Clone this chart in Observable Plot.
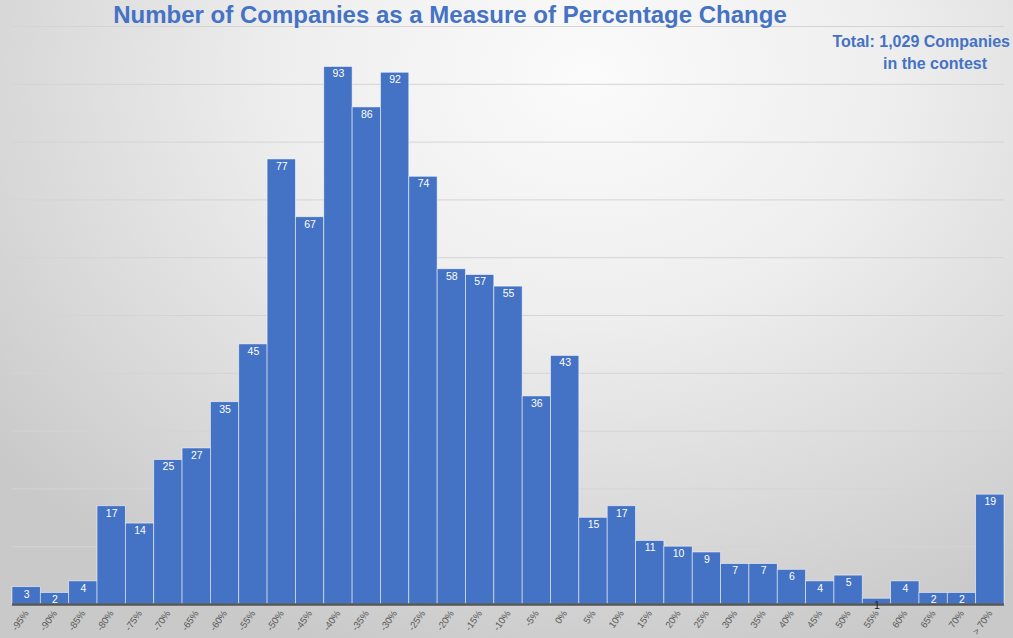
<!DOCTYPE html>
<html>
<head>
<meta charset="utf-8">
<script src="https://cdn.jsdelivr.net/npm/d3@7"></script>
<script src="https://cdn.jsdelivr.net/npm/@observablehq/plot@0.6"></script>
<style>
  html, body { margin: 0; padding: 0; }
  body {
    width: 1013px; height: 638px; overflow: hidden;
    background: radial-gradient(ellipse 75% 95% at 58% 12%, #fbfbfb 0%, #eeeeee 40%, #d6d6d6 80%, #c9c9c9 100%);
    font-family: "Liberation Sans", Arial, sans-serif;
  }
  #wrap { position: relative; width: 1013px; height: 638px; }
  #title {
    position: absolute; left: 0; width: 900px; top: 1px; text-align: center;
    font: bold 24px "Liberation Sans", Arial, sans-serif; color: #4472C4;
  }
  .note {
    position: absolute; font: bold 16px "Liberation Sans", Arial, sans-serif; color: #4472C4; white-space: nowrap;
  }
  #chart { position: absolute; left: 0; top: 0; }
</style>
</head>
<body>
<div id="wrap">
  <div id="chart"></div>
  <div id="title">Number of Companies as a Measure of Percentage Change</div>
  <div class="note" style="right:3px; top:33px;">Total: 1,029 Companies</div>
  <div class="note" style="left:883px; top:55px;">in the contest</div>
</div>
<script>
const categories = ["-95%","-90%","-85%","-80%","-75%","-70%","-65%","-60%","-55%","-50%","-45%","-40%","-35%","-30%","-25%","-20%","-15%","-10%","-5%","0%","5%","10%","15%","20%","25%","30%","35%","40%","45%","50%","55%","60%","65%","70%","> 70%"];
const counts = [3,2,4,17,14,25,27,35,45,77,67,93,86,92,74,58,57,55,36,43,15,17,11,10,9,7,7,6,4,5,1,4,2,2,19];
const gridTicks = [0,10,20,30,40,50,60,70,80,90,100];

const data = categories.map((c, i) => ({cat: c, n: counts[i]}));

const chart = Plot.plot({
  width: 1013,
  height: 638,
  marginTop: 26,
  marginBottom: 34,
  marginLeft: 12,
  marginRight: 9,
  style: {background: "transparent", fontFamily: "Liberation Sans, Arial, sans-serif"},
  x: {domain: categories, padding: 0, round: false, label: null, tickSize: 0, tickPadding: 7, tickRotate: -55},
  y: {domain: [0, 100], axis: null},
  marks: [
    Plot.ruleY(gridTicks.slice(1), {stroke: "#d4d4d4", strokeWidth: 1}),
    Plot.barY(data, {x: "cat", y: "n", fill: "#4472C4", stroke: "#ffffff", strokeOpacity: 0.65, strokeWidth: 0.8}),
    Plot.ruleY([0], {stroke: "#555555", strokeWidth: 2.5}),
    Plot.text(data, {x: "cat", y: "n", text: d => String(d.n), dy: 7, fill: d => d.n <= 1 ? "#222222" : "#ffffff", fontSize: 10.5})
  ]
});
chart.querySelectorAll("g[aria-label='x-axis tick label'] text").forEach(t => {
  t.setAttribute("fill", "#595959");
  t.setAttribute("font-size", "9.5");
});
document.getElementById("chart").appendChild(chart);
</script>
</body>
</html>
